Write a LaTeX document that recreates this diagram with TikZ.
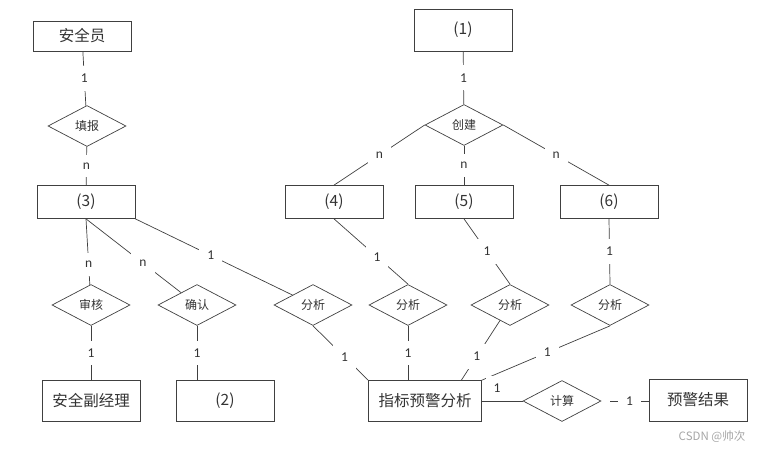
\documentclass[tikz,border=0pt]{standalone}
\usepackage{fontspec}
\setmainfont{Carlito}
\newfontfamily\cjk{Noto Sans CJK SC}
\usetikzlibrary{positioning}
\usetikzlibrary{shapes}
\usetikzlibrary{calc}

\newcommand{\BoxFont}{\cjk\fontsize{15.5}{18}\selectfont}
\newcommand{\RelFont}{\cjk\fontsize{12}{14}\selectfont}
\newcommand{\CardFont}{\fontsize{13.5}{15}\selectfont}

\begin{document}
\begin{tikzpicture}
	[x=1pt, y=-1pt,
	color=black!75,
	line width=0.7pt]

\tikzstyle{entity}=[draw, rectangle, minimum width=98pt, minimum height=41pt, inner sep=0pt, font=\BoxFont, text=black!80]
\tikzstyle{flat entity}=[entity, minimum height=33pt]
\tikzstyle{relation}=[draw, diamond, minimum width=78pt, minimum height=41pt, inner sep=0pt, font=\RelFont, text=black!80]
\tikzstyle{card}=[fill=white, inner sep=8pt, font=\CardFont, text=black!80]

\useasboundingbox (0, 0) rectangle (760, 450);

\def\TopRow{30}
\def\MidRow{202}
\def\RelRow{305}
\def\BottomRow{401}

% Left branch
\node[entity, minimum height=30pt] (staff) at (82, 36) {安全员};
\node[relation] (report) at (87, 126) {填报};
\node[flat entity] (box3) at (86, \MidRow) {(3)};
\node[relation] (audit) at (91, \RelRow) {审核};
\node[relation] (confirm) at (197, \RelRow) {确认};
\node[entity] (deputy) at (91, \BottomRow) {安全副经理};
\node[entity] (box2) at (225, \BottomRow) {(2)};

% Right branch
\node[entity, minimum height=42pt] (box1) at (463, \TopRow) {(1)};
\node[relation] (create) at (464, 125) {创建};
\node[flat entity] (box4) at (334, \MidRow) {(4)};
\node[flat entity] (box5) at (464, \MidRow) {(5)};
\node[flat entity] (box6) at (609, \MidRow) {(6)};

% Analysis row
\node[relation] (analyse1) at (313, \RelRow) {分析};
\node[relation] (analyse2) at (408, \RelRow) {分析};
\node[relation] (analyse3) at (510, \RelRow) {分析};
\node[relation] (analyse4) at (610, \RelRow) {分析};

\node[entity, minimum width=113pt] (warning) at (425, \BottomRow) {指标预警分析};
\node[relation] (compute) at (562, \BottomRow) {计算};
\node[entity, minimum height=42pt] (result) at (698, 400) {预警结果};

\coordinate (warning in) at ($(warning.north west)!0.82!(warning.north east)$);
\coordinate (compute out) at ([xshift=9pt]compute.east);

% Left connectors
\draw (staff) -- node[card] {1} (report);
\draw (report) -- node[card] {n} (box3);
\draw (box3.south) -- node[card, pos=0.69] {n} (audit);
\draw (box3.south) -- node[card, pos=0.6] {n} (confirm);
\draw (audit) -- node[card] {1} (deputy);
\draw (confirm.south) -- node[card] {1} (confirm.south |- box2.north);
\draw (box3.south east) -- node[card, pos=0.48] {1} (analyse1);
\draw (analyse1.south) -- node[card, pos=0.57] {1} (warning.north west);

% Right connectors
\draw (box1) -- node[card] {1} (create);
\draw (create.west) -- node[card] {n} (box4.north);
\draw (create) -- node[card] {n} (box5);
\draw (create.east) -- node[card] {n} (box6.north);
\draw (box4.south) -- node[card, pos=0.58] {1} (analyse2.north);
\draw (box5.south) -- node[card] {1} (analyse3.north);
\draw (box6.south) -- node[card] {1} (analyse4.north);
\draw (analyse2.south) -- node[card] {1} (analyse2.south |- warning.north);
\draw (analyse3) -- node[card, pos=0.6] {1} (warning in);
\draw (analyse4.south) -- node[card, pos=0.49] {1} (warning.north east);

% Result
\draw (warning) -- node[card, pos=0.37, above] {1} (compute);
\draw (compute out) -- node[card] {1} (compute out -| result.west);

\node[text=black!35, font=\cjk\fontsize{11.5}{13}\selectfont] (mark) at (712, 437) {CSDN @帅次};

\end{tikzpicture}
\end{document}
